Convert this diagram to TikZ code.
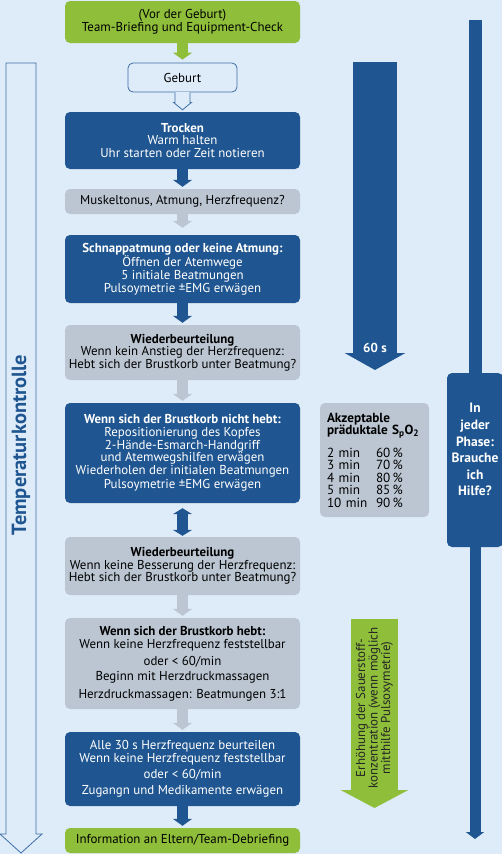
\documentclass[tikz,border=0pt]{standalone}
\usepackage{fontspec}
\setmainfont{PT Sans}
\usetikzlibrary{arrows.meta,calc}

\definecolor{bgblue}{HTML}{DEEBF8}
\definecolor{darkblue}{HTML}{1F5590}
\definecolor{boxgray}{HTML}{BBC6D2}
\definecolor{leafgreen}{HTML}{8EBE3A}
\definecolor{edgeblue}{HTML}{3F6FA6}

\tikzset{
  box/.style={rounded corners=5pt, minimum width=235pt, align=center, inner sep=0pt,
    font=\fontsize{12.9}{12.7}\selectfont},
  darkbox/.style={box, fill=darkblue, text=white},
  graybox/.style={box, fill=boxgray, text=black},
  greenbox/.style={box, fill=leafgreen, text=black},
  flow/.style={line width=11pt, -{Triangle[width=19pt,length=7pt]}, shorten >=2pt},
  darkflow/.style={flow, darkblue},
  grayflow/.style={flow, boxgray},
}

\begin{document}
\begin{tikzpicture}[x=1pt,y=-1pt]
  % Background
  \fill[bgblue] (0,0) rectangle (502,854);
  \useasboundingbox (0,0) rectangle (502,854);

  % Temperature arrow on the left
  \coordinate (tk top) at (21,63);
  \coordinate (tk tip) at (21,853);
  \draw[edgeblue, fill=bgblue, line width=0.8pt] ($(tk top)+(-15,0)$) -- ($(tk top)+(15,0)$)
    -- ($(tk tip)+(15,-19)$) -- ($(tk tip)+(21,-19)$) -- (tk tip) -- ($(tk tip)+(-21,-19)$)
    -- ($(tk tip)+(-15,-19)$) -- cycle;
  \node[rotate=90, text=darkblue, font=\fontsize{20.5}{22}\selectfont\bfseries] (temp) at (21,445) {Temperaturkontrolle};

  % Main boxes
  \node[greenbox, minimum height=42pt] (start) at (182.5,22) {(Vor der Geburt)\\Team-Briefing und Equipment-Check};
  \node[draw=edgeblue, line width=0.8pt, fill=bgblue, rounded corners=5pt, minimum width=109pt, minimum height=29pt,
    font=\fontsize{12.9}{12.7}\selectfont] (geburt) at (182.5,77.5) {Geburt};
  \node[darkbox, minimum height=57pt] (trocken) at (182.5,140.5) {\textbf{Trocken}\\Warm halten\\Uhr starten oder Zeit notieren};
  \node[graybox, minimum height=25pt] (check) at (182.5,201.5) {Muskeltonus, Atmung, Herzfrequenz?};
  \node[darkbox, minimum height=68pt] (atmung) at (182.5,269) {\textbf{Schnappatmung oder keine Atmung:}\\Öffnen der Atemwege\\5 initiale Beatmungen\\Pulsoymetrie ±EMG erwägen};
  \node[graybox, minimum height=55pt] (reeval1) at (182.5,352.5) {\textbf{Wiederbeurteilung}\\Wenn kein Anstieg der Herzfrequenz:\\Hebt sich der Brustkorb unter Beatmung?};
  \node[darkbox, minimum height=100pt] (nohebt) at (182.5,453) {\textbf{Wenn sich der Brustkorb nicht hebt:}\\Repositionierung des Kopfes\\2-Hände-Esmarch-Handgriff\\und Atemwegshilfen erwägen\\Wiederholen der initialen Beatmungen\\[1.5pt]Pulsoymetrie ±EMG erwägen};
  \node[graybox, minimum height=58pt] (reeval2) at (182.5,566) {\textbf{Wiederbeurteilung}\\Wenn keine Besserung der Herzfrequenz:\\Hebt sich der Brustkorb unter Beatmung?};
  \node[graybox, minimum height=91pt] (hebt) at (182.5,663.5) {\textbf{Wenn sich der Brustkorb hebt:}\\Wenn keine Herzfrequenz feststellbar\\[4.5pt]oder < 60/min\\[2.5pt]Beginn mit Herzdruckmassagen\\[5pt]Herzdruckmassagen: Beatmungen 3:1};
  \node[darkbox, minimum height=74pt] (alle) at (182.5,769) {Alle 30 s Herzfrequenz beurteilen\\Wenn keine Herzfrequenz feststellbar\\[3.5pt]oder < 60/min\\[3.5pt]Zugangn und Medikamente erwägen};
  \node[greenbox, minimum height=25pt] (info) at (182.5,840.5) {Information an Eltern/Team-Debriefing};

  % Arrows between the boxes
  \draw[flow, leafgreen, shorten >=3pt] (start.south) -- (geburt.north);
  \fill[bgblue] ($(geburt.south)+(-7.1,-0.7)$) rectangle ($(geburt.south)+(7.1,0.7)$);
  \draw[edgeblue, fill=bgblue, line width=0.8pt] ($(geburt.south)+(-7.5,0)$) -- ++(0,10) -- ++(-1.5,0)
    -- ($(trocken.north)+(0,-2)$) -- ($(geburt.south)+(9,10)$) -- ++(-1.5,0) -- ++(0,-10);
  \foreach \a/\b in {trocken/check, atmung/reeval1, alle/info}
    \draw[darkflow] (\a.south) -- (\b.north);
  \foreach \a/\b in {reeval1/nohebt, reeval2/hebt, hebt/alle}
    \draw[grayflow] (\a.south) -- (\b.north);
  \draw[grayflow, shorten >=7pt] (check.south) -- (atmung.north);
  \draw[line width=11pt, darkblue, {Triangle[width=19pt,length=6pt]}-{Triangle[width=19pt,length=6pt]},
    shorten <=5pt, shorten >=1pt] (nohebt.south) -- (reeval2.north);

  % 60 s arrow
  \coordinate (min top) at (375,62);
  \coordinate (min tip) at (375,370);
  \draw[line width=44pt, darkblue, -{Triangle[width=60pt,length=17pt]}] (min top) -- (min tip);
  \node[text=white, font=\fontsize{13}{14}\selectfont\bfseries] (sixty) at (375,348) {60 s};

  % SpO2 table
  \node[fill=boxgray, rounded corners=5pt, minimum width=109pt, minimum height=114pt, text width=95pt,
    align=left, inner sep=0pt, font=\fontsize{13.2}{12.4}\selectfont] (spo) at (374.5,460)
    {\textbf{Akzeptable\\präduktale S\textsubscript{p}O\textsubscript{2}}\\[9pt]
     \makebox[49pt][l]{2 min}60\,\%\\
     \makebox[49pt][l]{3 min}70\,\%\\
     \makebox[49pt][l]{4 min}80\,\%\\
     \makebox[49pt][l]{5 min}85\,\%\\
     \makebox[49pt][l]{10 min}90\,\%\\[5pt]};

  % Oxygen arrow
  \coordinate (o2 top) at (374.5,619);
  \coordinate (o2 tip) at (374.5,808);
  \draw[line width=47pt, leafgreen, -{Triangle[width=67pt,length=18pt]}] (o2 top) -- (o2 tip);
  \node[rotate=90, align=center, text=black!85, font=\fontsize{12.9}{12.5}\selectfont] (o2) at (374.5,708)
    {Erhöhung der Sauerstoff-\\konzentration (wenn möglich\\mitthilfe Pulsoxymetrie)};

  % Help bar on the right
  \coordinate (help top) at (475,20);
  \coordinate (help end) at (475,839);
  \node[fill=darkblue, text=white, rounded corners=5pt, minimum width=56pt, minimum height=174pt, inner sep=0pt,
    align=center, font=\fontsize{13.5}{16.6}\selectfont\bfseries] (help) at (475,460)
    {In\\jeder\\Phase:\\Brauche\\ich\\Hilfe?\\[4pt]};
  \draw[line width=13pt, darkblue] (help top) -- (help.north);
  \draw[line width=11pt, darkblue, -{Triangle[width=18pt,length=7pt]}] (help.south) -- (help end);
\end{tikzpicture}
\end{document}
